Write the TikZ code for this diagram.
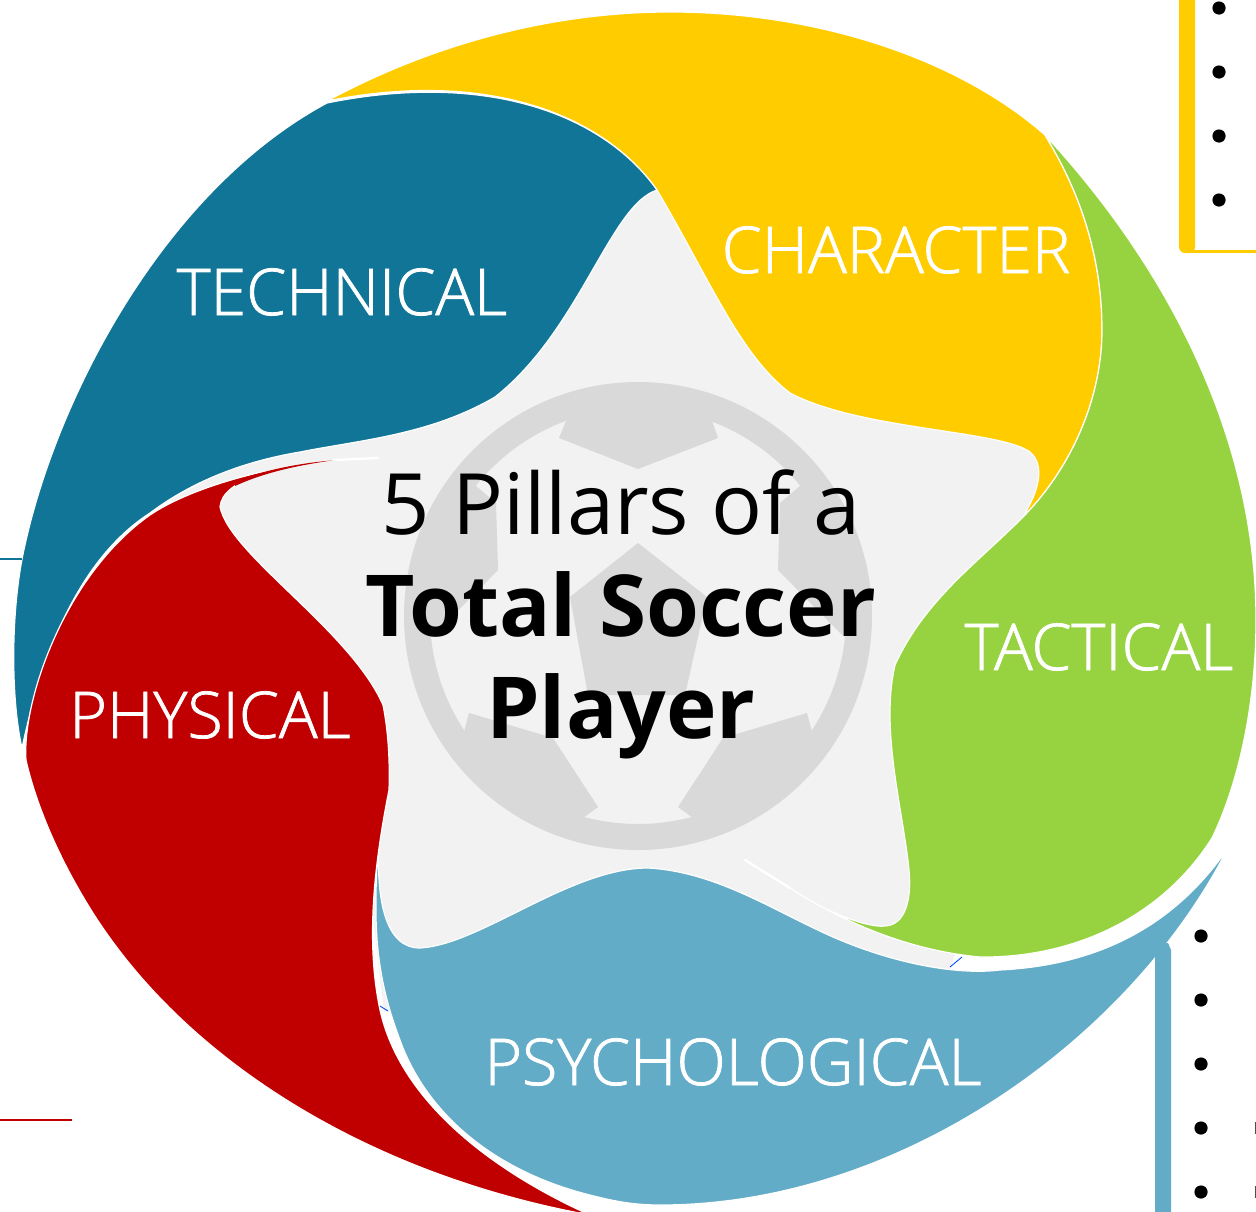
\documentclass[tikz,border=0pt]{standalone}
\usepackage{fontspec}
\setmainfont{Open Sans}
\newfontfamily\oslight[FakeBold=1.2]{Open Sans Light}
\definecolor{cteal}{HTML}{107596}
\definecolor{cyellow}{HTML}{FFCC00}
\definecolor{cred}{HTML}{C00000}
\definecolor{cblue}{HTML}{62ACC8}
\definecolor{cgreen}{HTML}{97D340}
\definecolor{cstar}{HTML}{F2F2F2}
\definecolor{cball}{HTML}{D9D9D9}
\tikzset{
  petal/.style={draw=white,line width=1.2pt,line join=round},
  ballpatch/.style={fill=cball,draw=none},
  tail/.style={draw=white,line width=2.4pt,line cap=round},
  dotmark/.style={fill=black,draw=none},
  petallabel/.style={text=white,anchor=base,inner sep=0pt,font=\oslight\fontsize{64.5}{66}\selectfont},
  titlelight/.style={text=black,anchor=base,inner sep=0pt,font=\fontsize{84.7}{84}\selectfont},
  titlebold/.style={text=black,anchor=base,inner sep=0pt,font=\bfseries\fontsize{85.5}{84}\selectfont},
  sliver/.style={draw=blue!70!cyan,line width=0.9pt}
}
\begin{document}
\begin{tikzpicture}[x=1pt,y=-1pt]
\useasboundingbox (0,0) rectangle (1256,1211);
\clip (0,0) rectangle (1256,1211);
\fill[white] (0,0) rectangle (1256,1211);
% base star with gaps
\fill[cstar] (657,185) -- (620,200) -- (590,260) -- (495,397) -- (300,450) -- (225,470) -- (170,500) -- (200,520) -- (378,790) -- (371,900) -- (384,1012) -- (440,980) -- (645,900) -- (720,910) -- (790,925) -- (840,950) -- (890,962) -- (950,969) -- (960,940) -- (930,900) -- (950,600) -- (1045,510) -- (1060,440) -- (800,380) -- (720,270) -- cycle;
% ball
\fill[cball,even odd rule] (638,616) circle (234) (638,616) circle (208);
\fill[ballpatch] (566,421) -- (559,438) -- (638,469) -- (718,438) -- (712,421) -- (638,395) -- cycle;
\fill[ballpatch] (638,543) -- (707,597) -- (685,695) -- (588,695) -- (570,597) -- cycle;
\fill[ballpatch] (475,485) -- (496,503) -- (498,570) -- (432,637) -- (415,560) -- cycle;
\fill[ballpatch] (801,485) -- (780,503) -- (778,570) -- (844,637) -- (861,560) -- cycle;
\fill[ballpatch] (469,713) -- (553,738) -- (598,807) -- (583,818) -- (500,790) -- (464,732) -- cycle;
\fill[ballpatch] (807,713) -- (723,738) -- (678,807) -- (693,818) -- (776,790) -- (812,732) -- cycle;
% petals
\path[petal,fill=cyellow] (327,101) .. controls (440,40) and (560,12) .. (670,12)
  .. controls (820,12) and (960,60) .. (1045,135)
  .. controls (1085,200) and (1102,265) .. (1102,330)
  .. controls (1102,400) and (1070,470) .. (1022,518)
  .. controls (1040,490) and (1045,465) .. (1030,452)
  .. controls (1000,430) and (860,430) .. (790,393)
  .. controls (740,355) and (710,280) .. (657,190)
  .. controls (600,110) and (480,70) .. (327,101) -- cycle;
\path[petal,fill=cgreen] (1045,135) .. controls (1170,270) and (1256,440) .. (1256,620)
  .. controls (1256,700) and (1240,780) .. (1212,838)
  .. controls (1160,920) and (1070,958) .. (980,957)
  .. controls (905,950) and (840,920) .. (790,888)
  .. controls (830,915) and (870,928) .. (885,926)
  .. controls (905,925) and (912,900) .. (909,870)
  .. controls (903,810) and (880,730) .. (895,665)
  .. controls (925,600) and (975,565) .. (1022,518)
  .. controls (1070,470) and (1102,400) .. (1102,330)
  .. controls (1102,265) and (1085,200) .. (1045,135) -- cycle;
\path[petal,fill=cteal] (327,103) .. controls (480,72) and (600,110) .. (657,190)
  .. controls (610,205) and (580,330) .. (495,397)
  .. controls (430,435) and (360,440) .. (300,452)
  .. controls (240,462) and (190,483) .. (150,513)
  .. controls (85,555) and (45,640) .. (22,748)
  .. controls (11,700) and (10,610) .. (25,545)
  .. controls (58,395) and (165,190) .. (327,103) -- cycle;
\path[petal,fill=cblue] (1228,848) .. controls (1130,1040) and (900,1205) .. (660,1205)
  .. controls (630,1205) and (610,1200) .. (590,1195)
  .. controls (490,1170) and (425,1110) .. (400,1040)
  .. controls (385,1000) and (375,960) .. (376,900)
  .. controls (376,880) and (377,860) .. (379,840)
  .. controls (376,900) and (385,948) .. (420,948)
  .. controls (480,945) and (570,868) .. (648,868)
  .. controls (720,872) and (780,915) .. (840,940)
  .. controls (900,965) and (960,975) .. (1000,970)
  .. controls (1100,965) and (1175,925) .. (1228,848) -- cycle;
\path[petal,fill=cred] (330,461) .. controls (285,465) and (222,478) .. (220,507)
  .. controls (230,555) and (350,630) .. (383,705)
  .. controls (388,730) and (390,760) .. (389,790)
  .. controls (375,860) and (365,940) .. (380,1010)
  .. controls (400,1100) and (490,1170) .. (590,1215)
  .. controls (370,1175) and (180,1060) .. (85,900)
  .. controls (55,850) and (35,800) .. (26,760)
  .. controls (22,700) and (65,575) .. (150,515)
  .. controls (190,488) and (265,467) .. (330,461) -- cycle;
% thin red tip
\fill[cred] (235,481) .. controls (265,470) and (300,463) .. (332,460.5) .. controls (300,465) and (265,472) .. (235,486) -- cycle;
% white tails and slivers
\coordinate (tailAa) at (378,458); \coordinate (tailAb) at (334,460);
\coordinate (tailBa) at (745,860); \coordinate (tailBb) at (790,888);
\draw[tail] (tailAa) -- (tailAb);
\draw[tail] (tailBa) -- (tailBb);
\coordinate (slAa) at (380,1006); \coordinate (slAb) at (388,1011);
\coordinate (slBa) at (950,967); \coordinate (slBb) at (962,957);
\draw[sliver] (slAa) -- (slAb);
\draw[sliver] (slBa) -- (slBb);
% side bars
\fill[cyellow,rounded corners=6pt] (1179,-20) -- (1179,253) -- (1195,253) -- (1195,-20) -- cycle;
\fill[cyellow] (1190,250) rectangle (1260,253);
\fill[cblue] (1155,1215) -- (1155,945) -- (1168,943) -- (1171,950) -- (1171,1215) -- cycle;
\fill[cteal] (0,557.5) rectangle (22,559.5);
\fill[cred] (0,1119) rectangle (72,1121);
\foreach \yy in {8,72,136,200} \fill[dotmark] (1219,\yy) circle (6.6);
\foreach \yy in {936,1000,1064,1128,1192} \fill[dotmark] (1201,\yy) circle (6.6);
\foreach \yy in {1128,1192} \fill[black!70] (1255,\yy-6) rectangle (1256,\yy+6);
% text
\node[petallabel] (technical) at (342,315) {TECHNICAL};
\node[petallabel] (character) at (896,273) {CHARACTER};
\node[petallabel] (tactical) at (1099,670) {TACTICAL};
\node[petallabel] (physical) at (210,738) {PHYSICAL};
\node[petallabel] (psychological) at (733,1085) {PSYCHOLOGICAL};
\node[titlelight] (titleA) at (621,534) {5 Pillars of a};
\node[titlebold] (titleB) at (621,636) {Total Soccer};
\node[titlebold] (titleC) at (621,738) {Player};
\end{tikzpicture}
\end{document}
